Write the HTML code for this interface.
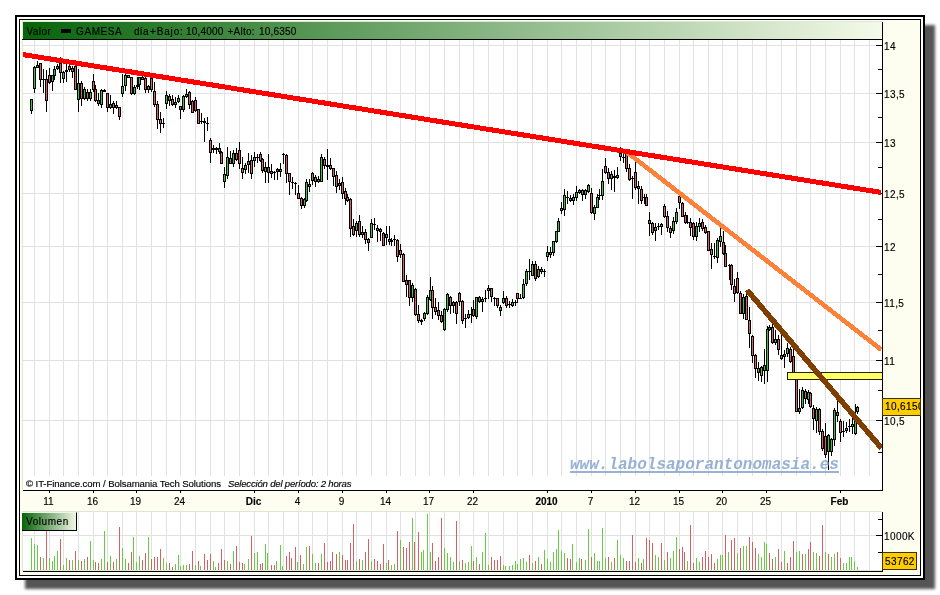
<!DOCTYPE html>
<html><head><meta charset="utf-8"><title>GAMESA</title>
<style>
html,body{margin:0;padding:0;background:#fff;}
body{width:940px;height:595px;position:relative;overflow:hidden;font-family:"Liberation Sans",sans-serif;font-size:10px;color:#000;}
#sh{position:absolute;left:25px;top:24.5px;width:909.5px;height:564px;background:#555;filter:blur(1.7px);}
#fr{position:absolute;left:15px;top:15px;width:906px;height:561px;border:2px solid #000;background:#fff;}
#in{position:absolute;left:19px;top:19px;width:900px;height:555px;border:1px solid #000;background:#fefef0;}
#hd{position:absolute;left:23px;top:22px;width:859px;height:17px;background:linear-gradient(to right,#07640a,#f5faea);}
#ht{position:absolute;left:27px;top:24px;height:16px;line-height:16px;font-size:10px;white-space:pre;}
#ht span{position:absolute;top:0;}
#mk{position:absolute;left:61px;top:29px;width:10px;height:4px;background:#000;}
.pl{position:absolute;background:#fff;}
.k{position:absolute;background:#000;}
.yl{position:absolute;left:884px;height:12px;line-height:12px;font-size:10px;white-space:nowrap;letter-spacing:0.4px;}
.xl{position:absolute;top:496px;width:41px;text-align:center;height:12px;line-height:12px;font-size:10px;}
.xl.b{font-weight:bold;}
#cp{position:absolute;left:26px;top:478px;height:12px;line-height:12px;font-size:9.6px;letter-spacing:-0.09px;white-space:pre;}
#cp i{position:absolute;left:202px;top:0;letter-spacing:-0.21px;}
#wm{position:absolute;left:570px;top:455px;font-family:"Liberation Mono",monospace;font-weight:bold;font-style:italic;font-size:16px;line-height:20px;color:#8eabd0;opacity:.92;white-space:pre;}
#wmu{position:absolute;left:570px;top:471px;width:269px;height:2px;background:#8eabd0;opacity:.92;}
#vl{position:absolute;left:22px;top:512px;width:54px;height:17px;background:linear-gradient(to right,#07640a,#f2f7e6);border-top:1px solid #f1f6ea;border-right:1px solid #000;border-bottom:1px solid #000;line-height:17px;font-size:10px;letter-spacing:0.55px;}
.tag{position:absolute;background:#ffcc00;border:1px solid #3a3000;font-size:10px;box-sizing:border-box;white-space:nowrap;overflow:hidden;}
svg{position:absolute;left:0;top:0;}
#tx{position:absolute;left:0;top:0;width:940px;height:595px;will-change:transform;-webkit-text-stroke:0.15px #000;}
#wm{-webkit-text-stroke:0;}
</style></head><body>
<div id="sh"></div>
<div id="fr"></div>
<div id="in"></div>
<div class="pl" style="left:22px;top:21px;width:860px;height:469px;background:#dbe8d4"></div>
<div class="pl" style="left:23px;top:40px;width:859px;height:450px"></div>
<div class="pl" style="left:22px;top:511px;width:860px;height:60px;background:#dbe8d4"></div>
<div class="pl" style="left:23px;top:512px;width:859px;height:59px"></div>
<div id="hd"></div>
<svg width="940" height="595" viewBox="0 0 940 595" shape-rendering="crispEdges">
<rect x="34" y="40" width="1" height="450" fill="#e1e1e1"/>
<rect x="34" y="512" width="1" height="59" fill="#e1e1e1"/>
<rect x="49" y="40" width="1" height="450" fill="#e1e1e1"/>
<rect x="49" y="512" width="1" height="59" fill="#e1e1e1"/>
<rect x="63" y="40" width="1" height="450" fill="#e1e1e1"/>
<rect x="63" y="512" width="1" height="59" fill="#e1e1e1"/>
<rect x="78" y="40" width="1" height="450" fill="#e1e1e1"/>
<rect x="78" y="512" width="1" height="59" fill="#e1e1e1"/>
<rect x="93" y="40" width="1" height="450" fill="#e1e1e1"/>
<rect x="93" y="512" width="1" height="59" fill="#e1e1e1"/>
<rect x="107" y="40" width="1" height="450" fill="#e1e1e1"/>
<rect x="107" y="512" width="1" height="59" fill="#e1e1e1"/>
<rect x="122" y="40" width="1" height="450" fill="#e1e1e1"/>
<rect x="122" y="512" width="1" height="59" fill="#e1e1e1"/>
<rect x="136" y="40" width="1" height="450" fill="#e1e1e1"/>
<rect x="136" y="512" width="1" height="59" fill="#e1e1e1"/>
<rect x="151" y="40" width="1" height="450" fill="#e1e1e1"/>
<rect x="151" y="512" width="1" height="59" fill="#e1e1e1"/>
<rect x="166" y="40" width="1" height="450" fill="#e1e1e1"/>
<rect x="166" y="512" width="1" height="59" fill="#e1e1e1"/>
<rect x="180" y="40" width="1" height="450" fill="#e1e1e1"/>
<rect x="180" y="512" width="1" height="59" fill="#e1e1e1"/>
<rect x="195" y="40" width="1" height="450" fill="#e1e1e1"/>
<rect x="195" y="512" width="1" height="59" fill="#e1e1e1"/>
<rect x="210" y="40" width="1" height="450" fill="#e1e1e1"/>
<rect x="210" y="512" width="1" height="59" fill="#e1e1e1"/>
<rect x="224" y="40" width="1" height="450" fill="#e1e1e1"/>
<rect x="224" y="512" width="1" height="59" fill="#e1e1e1"/>
<rect x="239" y="40" width="1" height="450" fill="#e1e1e1"/>
<rect x="239" y="512" width="1" height="59" fill="#e1e1e1"/>
<rect x="254" y="40" width="1" height="450" fill="#e1e1e1"/>
<rect x="254" y="512" width="1" height="59" fill="#e1e1e1"/>
<rect x="268" y="40" width="1" height="450" fill="#e1e1e1"/>
<rect x="268" y="512" width="1" height="59" fill="#e1e1e1"/>
<rect x="283" y="40" width="1" height="450" fill="#e1e1e1"/>
<rect x="283" y="512" width="1" height="59" fill="#e1e1e1"/>
<rect x="298" y="40" width="1" height="450" fill="#e1e1e1"/>
<rect x="298" y="512" width="1" height="59" fill="#e1e1e1"/>
<rect x="312" y="40" width="1" height="450" fill="#e1e1e1"/>
<rect x="312" y="512" width="1" height="59" fill="#e1e1e1"/>
<rect x="327" y="40" width="1" height="450" fill="#e1e1e1"/>
<rect x="327" y="512" width="1" height="59" fill="#e1e1e1"/>
<rect x="342" y="40" width="1" height="450" fill="#e1e1e1"/>
<rect x="342" y="512" width="1" height="59" fill="#e1e1e1"/>
<rect x="356" y="40" width="1" height="450" fill="#e1e1e1"/>
<rect x="356" y="512" width="1" height="59" fill="#e1e1e1"/>
<rect x="371" y="40" width="1" height="450" fill="#e1e1e1"/>
<rect x="371" y="512" width="1" height="59" fill="#e1e1e1"/>
<rect x="386" y="40" width="1" height="450" fill="#e1e1e1"/>
<rect x="386" y="512" width="1" height="59" fill="#e1e1e1"/>
<rect x="400" y="40" width="1" height="450" fill="#e1e1e1"/>
<rect x="400" y="512" width="1" height="59" fill="#e1e1e1"/>
<rect x="415" y="40" width="1" height="450" fill="#e1e1e1"/>
<rect x="415" y="512" width="1" height="59" fill="#e1e1e1"/>
<rect x="429" y="40" width="1" height="450" fill="#e1e1e1"/>
<rect x="429" y="512" width="1" height="59" fill="#e1e1e1"/>
<rect x="444" y="40" width="1" height="450" fill="#e1e1e1"/>
<rect x="444" y="512" width="1" height="59" fill="#e1e1e1"/>
<rect x="459" y="40" width="1" height="450" fill="#e1e1e1"/>
<rect x="459" y="512" width="1" height="59" fill="#e1e1e1"/>
<rect x="473" y="40" width="1" height="450" fill="#e1e1e1"/>
<rect x="473" y="512" width="1" height="59" fill="#e1e1e1"/>
<rect x="488" y="40" width="1" height="450" fill="#e1e1e1"/>
<rect x="488" y="512" width="1" height="59" fill="#e1e1e1"/>
<rect x="503" y="40" width="1" height="450" fill="#e1e1e1"/>
<rect x="503" y="512" width="1" height="59" fill="#e1e1e1"/>
<rect x="517" y="40" width="1" height="450" fill="#e1e1e1"/>
<rect x="517" y="512" width="1" height="59" fill="#e1e1e1"/>
<rect x="532" y="40" width="1" height="450" fill="#e1e1e1"/>
<rect x="532" y="512" width="1" height="59" fill="#e1e1e1"/>
<rect x="547" y="40" width="1" height="450" fill="#e1e1e1"/>
<rect x="547" y="512" width="1" height="59" fill="#e1e1e1"/>
<rect x="561" y="40" width="1" height="450" fill="#e1e1e1"/>
<rect x="561" y="512" width="1" height="59" fill="#e1e1e1"/>
<rect x="576" y="40" width="1" height="450" fill="#e1e1e1"/>
<rect x="576" y="512" width="1" height="59" fill="#e1e1e1"/>
<rect x="591" y="40" width="1" height="450" fill="#e1e1e1"/>
<rect x="591" y="512" width="1" height="59" fill="#e1e1e1"/>
<rect x="605" y="40" width="1" height="450" fill="#e1e1e1"/>
<rect x="605" y="512" width="1" height="59" fill="#e1e1e1"/>
<rect x="620" y="40" width="1" height="450" fill="#e1e1e1"/>
<rect x="620" y="512" width="1" height="59" fill="#e1e1e1"/>
<rect x="635" y="40" width="1" height="450" fill="#e1e1e1"/>
<rect x="635" y="512" width="1" height="59" fill="#e1e1e1"/>
<rect x="649" y="40" width="1" height="450" fill="#e1e1e1"/>
<rect x="649" y="512" width="1" height="59" fill="#e1e1e1"/>
<rect x="664" y="40" width="1" height="450" fill="#e1e1e1"/>
<rect x="664" y="512" width="1" height="59" fill="#e1e1e1"/>
<rect x="679" y="40" width="1" height="450" fill="#e1e1e1"/>
<rect x="679" y="512" width="1" height="59" fill="#e1e1e1"/>
<rect x="693" y="40" width="1" height="450" fill="#e1e1e1"/>
<rect x="693" y="512" width="1" height="59" fill="#e1e1e1"/>
<rect x="708" y="40" width="1" height="450" fill="#e1e1e1"/>
<rect x="708" y="512" width="1" height="59" fill="#e1e1e1"/>
<rect x="722" y="40" width="1" height="450" fill="#e1e1e1"/>
<rect x="722" y="512" width="1" height="59" fill="#e1e1e1"/>
<rect x="737" y="40" width="1" height="450" fill="#e1e1e1"/>
<rect x="737" y="512" width="1" height="59" fill="#e1e1e1"/>
<rect x="752" y="40" width="1" height="450" fill="#e1e1e1"/>
<rect x="752" y="512" width="1" height="59" fill="#e1e1e1"/>
<rect x="766" y="40" width="1" height="450" fill="#e1e1e1"/>
<rect x="766" y="512" width="1" height="59" fill="#e1e1e1"/>
<rect x="781" y="40" width="1" height="450" fill="#e1e1e1"/>
<rect x="781" y="512" width="1" height="59" fill="#e1e1e1"/>
<rect x="796" y="40" width="1" height="450" fill="#e1e1e1"/>
<rect x="796" y="512" width="1" height="59" fill="#e1e1e1"/>
<rect x="810" y="40" width="1" height="450" fill="#e1e1e1"/>
<rect x="810" y="512" width="1" height="59" fill="#e1e1e1"/>
<rect x="825" y="40" width="1" height="450" fill="#e1e1e1"/>
<rect x="825" y="512" width="1" height="59" fill="#e1e1e1"/>
<rect x="840" y="40" width="1" height="450" fill="#e1e1e1"/>
<rect x="840" y="512" width="1" height="59" fill="#e1e1e1"/>
<rect x="854" y="40" width="1" height="450" fill="#e1e1e1"/>
<rect x="854" y="512" width="1" height="59" fill="#e1e1e1"/>
<rect x="869" y="40" width="1" height="450" fill="#e1e1e1"/>
<rect x="869" y="512" width="1" height="59" fill="#e1e1e1"/>
<rect x="23" y="45" width="859" height="1" fill="#e1e1e1"/>
<rect x="23" y="93" width="859" height="1" fill="#e1e1e1"/>
<rect x="23" y="142" width="859" height="1" fill="#e1e1e1"/>
<rect x="23" y="193" width="859" height="1" fill="#e1e1e1"/>
<rect x="23" y="246" width="859" height="1" fill="#e1e1e1"/>
<rect x="23" y="302" width="859" height="1" fill="#e1e1e1"/>
<rect x="23" y="360" width="859" height="1" fill="#e1e1e1"/>
<rect x="23" y="420" width="859" height="1" fill="#e1e1e1"/>
<rect x="23" y="535" width="859" height="1" fill="#e1e1e1"/>
<rect x="23" y="476" width="859" height="14" fill="#fff"/>
<rect x="31" y="99" width="1" height="15" fill="#000"/>
<rect x="30" y="99" width="3" height="12" fill="#000"/>
<rect x="31" y="100" width="1" height="10" fill="#34c834"/>
<rect x="34" y="66" width="1" height="27" fill="#000"/>
<rect x="33" y="67" width="3" height="22" fill="#000"/>
<rect x="34" y="68" width="1" height="20" fill="#34c834"/>
<rect x="37" y="61" width="1" height="7" fill="#000"/>
<rect x="36" y="65" width="3" height="3" fill="#000"/>
<rect x="37" y="66" width="1" height="1" fill="#34c834"/>
<rect x="40" y="63" width="1" height="24" fill="#000"/>
<rect x="39" y="63" width="3" height="17" fill="#000"/>
<rect x="40" y="64" width="1" height="15" fill="#d46262"/>
<rect x="43" y="69" width="1" height="24" fill="#000"/>
<rect x="42" y="79" width="3" height="1" fill="#000"/>
<rect x="46" y="70" width="1" height="42" fill="#000"/>
<rect x="45" y="79" width="3" height="22" fill="#000"/>
<rect x="46" y="80" width="1" height="20" fill="#d46262"/>
<rect x="49" y="68" width="1" height="16" fill="#000"/>
<rect x="48" y="75" width="3" height="8" fill="#000"/>
<rect x="49" y="76" width="1" height="6" fill="#d46262"/>
<rect x="52" y="75" width="1" height="16" fill="#000"/>
<rect x="51" y="75" width="3" height="7" fill="#000"/>
<rect x="52" y="76" width="1" height="5" fill="#34c834"/>
<rect x="54" y="66" width="1" height="14" fill="#000"/>
<rect x="53" y="69" width="3" height="7" fill="#000"/>
<rect x="54" y="70" width="1" height="5" fill="#34c834"/>
<rect x="57" y="64" width="1" height="6" fill="#000"/>
<rect x="56" y="66" width="3" height="3" fill="#000"/>
<rect x="57" y="67" width="1" height="1" fill="#34c834"/>
<rect x="60" y="57" width="1" height="26" fill="#000"/>
<rect x="59" y="63" width="3" height="10" fill="#000"/>
<rect x="60" y="64" width="1" height="8" fill="#d46262"/>
<rect x="63" y="71" width="1" height="12" fill="#000"/>
<rect x="62" y="72" width="3" height="7" fill="#000"/>
<rect x="63" y="73" width="1" height="5" fill="#34c834"/>
<rect x="66" y="64" width="1" height="18" fill="#000"/>
<rect x="65" y="70" width="3" height="2" fill="#000"/>
<rect x="69" y="65" width="1" height="7" fill="#000"/>
<rect x="68" y="66" width="3" height="4" fill="#000"/>
<rect x="69" y="67" width="1" height="2" fill="#d46262"/>
<rect x="72" y="66" width="1" height="12" fill="#000"/>
<rect x="71" y="68" width="3" height="4" fill="#000"/>
<rect x="72" y="69" width="1" height="2" fill="#34c834"/>
<rect x="75" y="66" width="1" height="24" fill="#000"/>
<rect x="74" y="66" width="3" height="24" fill="#000"/>
<rect x="75" y="67" width="1" height="22" fill="#d46262"/>
<rect x="78" y="69" width="1" height="43" fill="#000"/>
<rect x="77" y="83" width="3" height="17" fill="#000"/>
<rect x="78" y="84" width="1" height="15" fill="#34c834"/>
<rect x="81" y="81" width="1" height="25" fill="#000"/>
<rect x="80" y="83" width="3" height="16" fill="#000"/>
<rect x="81" y="84" width="1" height="14" fill="#d46262"/>
<rect x="84" y="87" width="1" height="13" fill="#000"/>
<rect x="83" y="89" width="3" height="10" fill="#000"/>
<rect x="84" y="90" width="1" height="8" fill="#34c834"/>
<rect x="87" y="89" width="1" height="12" fill="#000"/>
<rect x="86" y="92" width="3" height="7" fill="#000"/>
<rect x="87" y="93" width="1" height="5" fill="#d46262"/>
<rect x="90" y="89" width="1" height="12" fill="#000"/>
<rect x="89" y="92" width="3" height="7" fill="#000"/>
<rect x="90" y="93" width="1" height="5" fill="#34c834"/>
<rect x="93" y="74" width="1" height="18" fill="#000"/>
<rect x="92" y="81" width="3" height="9" fill="#000"/>
<rect x="93" y="82" width="1" height="7" fill="#d46262"/>
<rect x="95" y="85" width="1" height="17" fill="#000"/>
<rect x="94" y="89" width="3" height="12" fill="#000"/>
<rect x="95" y="90" width="1" height="10" fill="#d46262"/>
<rect x="98" y="93" width="1" height="13" fill="#000"/>
<rect x="97" y="100" width="3" height="4" fill="#000"/>
<rect x="98" y="101" width="1" height="2" fill="#d46262"/>
<rect x="101" y="89" width="1" height="19" fill="#000"/>
<rect x="100" y="90" width="3" height="15" fill="#000"/>
<rect x="101" y="91" width="1" height="13" fill="#34c834"/>
<rect x="104" y="89" width="1" height="3" fill="#000"/>
<rect x="103" y="90" width="3" height="2" fill="#000"/>
<rect x="107" y="93" width="1" height="19" fill="#000"/>
<rect x="106" y="93" width="3" height="15" fill="#000"/>
<rect x="107" y="94" width="1" height="13" fill="#d46262"/>
<rect x="110" y="95" width="1" height="14" fill="#000"/>
<rect x="109" y="104" width="3" height="4" fill="#000"/>
<rect x="110" y="105" width="1" height="2" fill="#34c834"/>
<rect x="113" y="101" width="1" height="13" fill="#000"/>
<rect x="112" y="103" width="3" height="5" fill="#000"/>
<rect x="113" y="104" width="1" height="3" fill="#d46262"/>
<rect x="116" y="101" width="1" height="8" fill="#000"/>
<rect x="115" y="105" width="3" height="3" fill="#000"/>
<rect x="116" y="106" width="1" height="1" fill="#34c834"/>
<rect x="119" y="107" width="1" height="13" fill="#000"/>
<rect x="118" y="107" width="3" height="10" fill="#000"/>
<rect x="119" y="108" width="1" height="8" fill="#d46262"/>
<rect x="122" y="74" width="1" height="23" fill="#000"/>
<rect x="121" y="86" width="3" height="8" fill="#000"/>
<rect x="122" y="87" width="1" height="6" fill="#34c834"/>
<rect x="125" y="74" width="1" height="17" fill="#000"/>
<rect x="124" y="75" width="3" height="11" fill="#000"/>
<rect x="125" y="76" width="1" height="9" fill="#34c834"/>
<rect x="128" y="75" width="1" height="3" fill="#000"/>
<rect x="127" y="75" width="3" height="3" fill="#000"/>
<rect x="128" y="76" width="1" height="1" fill="#34c834"/>
<rect x="131" y="77" width="1" height="18" fill="#000"/>
<rect x="130" y="77" width="3" height="17" fill="#000"/>
<rect x="131" y="78" width="1" height="15" fill="#d46262"/>
<rect x="134" y="85" width="1" height="10" fill="#000"/>
<rect x="133" y="87" width="3" height="7" fill="#000"/>
<rect x="134" y="88" width="1" height="5" fill="#34c834"/>
<rect x="137" y="77" width="1" height="12" fill="#000"/>
<rect x="136" y="85" width="3" height="2" fill="#000"/>
<rect x="139" y="77" width="1" height="13" fill="#000"/>
<rect x="138" y="77" width="3" height="8" fill="#000"/>
<rect x="139" y="78" width="1" height="6" fill="#34c834"/>
<rect x="142" y="76" width="1" height="4" fill="#000"/>
<rect x="141" y="77" width="3" height="3" fill="#000"/>
<rect x="142" y="78" width="1" height="1" fill="#d46262"/>
<rect x="145" y="77" width="1" height="16" fill="#000"/>
<rect x="144" y="78" width="3" height="12" fill="#000"/>
<rect x="145" y="79" width="1" height="10" fill="#d46262"/>
<rect x="148" y="85" width="1" height="8" fill="#000"/>
<rect x="147" y="86" width="3" height="4" fill="#000"/>
<rect x="148" y="87" width="1" height="2" fill="#34c834"/>
<rect x="151" y="78" width="1" height="14" fill="#000"/>
<rect x="150" y="78" width="3" height="12" fill="#000"/>
<rect x="151" y="79" width="1" height="10" fill="#d46262"/>
<rect x="154" y="82" width="1" height="25" fill="#000"/>
<rect x="153" y="91" width="3" height="14" fill="#000"/>
<rect x="154" y="92" width="1" height="12" fill="#d46262"/>
<rect x="157" y="101" width="1" height="28" fill="#000"/>
<rect x="156" y="104" width="3" height="16" fill="#000"/>
<rect x="157" y="105" width="1" height="14" fill="#d46262"/>
<rect x="160" y="112" width="1" height="21" fill="#000"/>
<rect x="159" y="119" width="3" height="5" fill="#000"/>
<rect x="160" y="120" width="1" height="3" fill="#d46262"/>
<rect x="163" y="118" width="1" height="10" fill="#000"/>
<rect x="162" y="123" width="3" height="1" fill="#000"/>
<rect x="166" y="91" width="1" height="18" fill="#000"/>
<rect x="165" y="95" width="3" height="9" fill="#000"/>
<rect x="166" y="96" width="1" height="7" fill="#34c834"/>
<rect x="169" y="94" width="1" height="12" fill="#000"/>
<rect x="168" y="96" width="3" height="5" fill="#000"/>
<rect x="169" y="97" width="1" height="3" fill="#d46262"/>
<rect x="172" y="95" width="1" height="11" fill="#000"/>
<rect x="171" y="99" width="3" height="6" fill="#000"/>
<rect x="172" y="100" width="1" height="4" fill="#d46262"/>
<rect x="175" y="97" width="1" height="11" fill="#000"/>
<rect x="174" y="102" width="3" height="3" fill="#000"/>
<rect x="175" y="103" width="1" height="1" fill="#34c834"/>
<rect x="178" y="95" width="1" height="8" fill="#000"/>
<rect x="177" y="98" width="3" height="4" fill="#000"/>
<rect x="178" y="99" width="1" height="2" fill="#34c834"/>
<rect x="180" y="106" width="1" height="13" fill="#000"/>
<rect x="179" y="106" width="3" height="4" fill="#000"/>
<rect x="180" y="107" width="1" height="2" fill="#d46262"/>
<rect x="183" y="95" width="1" height="17" fill="#000"/>
<rect x="182" y="96" width="3" height="14" fill="#000"/>
<rect x="183" y="97" width="1" height="12" fill="#34c834"/>
<rect x="186" y="89" width="1" height="9" fill="#000"/>
<rect x="185" y="94" width="3" height="3" fill="#000"/>
<rect x="186" y="95" width="1" height="1" fill="#34c834"/>
<rect x="189" y="91" width="1" height="18" fill="#000"/>
<rect x="188" y="92" width="3" height="13" fill="#000"/>
<rect x="189" y="93" width="1" height="11" fill="#d46262"/>
<rect x="192" y="100" width="1" height="13" fill="#000"/>
<rect x="191" y="101" width="3" height="12" fill="#000"/>
<rect x="192" y="102" width="1" height="10" fill="#d46262"/>
<rect x="195" y="97" width="1" height="15" fill="#000"/>
<rect x="194" y="100" width="3" height="11" fill="#000"/>
<rect x="195" y="101" width="1" height="9" fill="#d46262"/>
<rect x="198" y="109" width="1" height="15" fill="#000"/>
<rect x="197" y="109" width="3" height="15" fill="#000"/>
<rect x="198" y="110" width="1" height="13" fill="#d46262"/>
<rect x="201" y="113" width="1" height="11" fill="#000"/>
<rect x="200" y="121" width="3" height="1" fill="#000"/>
<rect x="204" y="118" width="1" height="24" fill="#000"/>
<rect x="203" y="121" width="3" height="2" fill="#000"/>
<rect x="207" y="117" width="1" height="14" fill="#000"/>
<rect x="206" y="123" width="3" height="1" fill="#000"/>
<rect x="210" y="138" width="1" height="25" fill="#000"/>
<rect x="209" y="140" width="3" height="13" fill="#000"/>
<rect x="210" y="141" width="1" height="11" fill="#d46262"/>
<rect x="213" y="145" width="1" height="8" fill="#000"/>
<rect x="212" y="148" width="3" height="2" fill="#000"/>
<rect x="216" y="147" width="1" height="7" fill="#000"/>
<rect x="215" y="148" width="3" height="2" fill="#000"/>
<rect x="219" y="143" width="1" height="11" fill="#000"/>
<rect x="218" y="148" width="3" height="4" fill="#000"/>
<rect x="219" y="149" width="1" height="2" fill="#d46262"/>
<rect x="221" y="151" width="1" height="13" fill="#000"/>
<rect x="220" y="152" width="3" height="12" fill="#000"/>
<rect x="221" y="153" width="1" height="10" fill="#d46262"/>
<rect x="224" y="167" width="1" height="21" fill="#000"/>
<rect x="223" y="174" width="3" height="8" fill="#000"/>
<rect x="224" y="175" width="1" height="6" fill="#34c834"/>
<rect x="227" y="147" width="1" height="32" fill="#000"/>
<rect x="226" y="157" width="3" height="19" fill="#000"/>
<rect x="227" y="158" width="1" height="17" fill="#34c834"/>
<rect x="230" y="151" width="1" height="13" fill="#000"/>
<rect x="229" y="158" width="3" height="6" fill="#000"/>
<rect x="230" y="159" width="1" height="4" fill="#d46262"/>
<rect x="233" y="150" width="1" height="17" fill="#000"/>
<rect x="232" y="153" width="3" height="11" fill="#000"/>
<rect x="233" y="154" width="1" height="9" fill="#34c834"/>
<rect x="236" y="148" width="1" height="13" fill="#000"/>
<rect x="235" y="153" width="3" height="7" fill="#000"/>
<rect x="236" y="154" width="1" height="5" fill="#d46262"/>
<rect x="239" y="142" width="1" height="27" fill="#000"/>
<rect x="238" y="150" width="3" height="14" fill="#000"/>
<rect x="239" y="151" width="1" height="12" fill="#d46262"/>
<rect x="242" y="157" width="1" height="22" fill="#000"/>
<rect x="241" y="168" width="3" height="5" fill="#000"/>
<rect x="242" y="169" width="1" height="3" fill="#d46262"/>
<rect x="245" y="163" width="1" height="11" fill="#000"/>
<rect x="244" y="165" width="3" height="5" fill="#000"/>
<rect x="245" y="166" width="1" height="3" fill="#34c834"/>
<rect x="248" y="153" width="1" height="20" fill="#000"/>
<rect x="247" y="161" width="3" height="4" fill="#000"/>
<rect x="248" y="162" width="1" height="2" fill="#34c834"/>
<rect x="251" y="155" width="1" height="24" fill="#000"/>
<rect x="250" y="160" width="3" height="14" fill="#000"/>
<rect x="251" y="161" width="1" height="12" fill="#d46262"/>
<rect x="254" y="152" width="1" height="15" fill="#000"/>
<rect x="253" y="157" width="3" height="4" fill="#000"/>
<rect x="254" y="158" width="1" height="2" fill="#34c834"/>
<rect x="257" y="154" width="1" height="9" fill="#000"/>
<rect x="256" y="157" width="3" height="1" fill="#000"/>
<rect x="260" y="152" width="1" height="10" fill="#000"/>
<rect x="259" y="154" width="3" height="7" fill="#000"/>
<rect x="260" y="155" width="1" height="5" fill="#d46262"/>
<rect x="262" y="158" width="1" height="15" fill="#000"/>
<rect x="261" y="159" width="3" height="12" fill="#000"/>
<rect x="262" y="160" width="1" height="10" fill="#d46262"/>
<rect x="265" y="162" width="1" height="21" fill="#000"/>
<rect x="264" y="167" width="3" height="5" fill="#000"/>
<rect x="265" y="168" width="1" height="3" fill="#34c834"/>
<rect x="268" y="154" width="1" height="29" fill="#000"/>
<rect x="267" y="167" width="3" height="6" fill="#000"/>
<rect x="268" y="168" width="1" height="4" fill="#d46262"/>
<rect x="271" y="164" width="1" height="14" fill="#000"/>
<rect x="270" y="171" width="3" height="3" fill="#000"/>
<rect x="271" y="172" width="1" height="1" fill="#d46262"/>
<rect x="274" y="171" width="1" height="9" fill="#000"/>
<rect x="273" y="172" width="3" height="1" fill="#000"/>
<rect x="277" y="168" width="1" height="12" fill="#000"/>
<rect x="276" y="169" width="3" height="3" fill="#000"/>
<rect x="277" y="170" width="1" height="1" fill="#d46262"/>
<rect x="280" y="163" width="1" height="14" fill="#000"/>
<rect x="279" y="169" width="3" height="3" fill="#000"/>
<rect x="280" y="170" width="1" height="1" fill="#34c834"/>
<rect x="283" y="153" width="1" height="11" fill="#000"/>
<rect x="282" y="154" width="3" height="1" fill="#000"/>
<rect x="286" y="154" width="1" height="29" fill="#000"/>
<rect x="285" y="155" width="3" height="19" fill="#000"/>
<rect x="286" y="156" width="1" height="17" fill="#d46262"/>
<rect x="289" y="173" width="1" height="22" fill="#000"/>
<rect x="288" y="173" width="3" height="9" fill="#000"/>
<rect x="289" y="174" width="1" height="7" fill="#d46262"/>
<rect x="292" y="177" width="1" height="12" fill="#000"/>
<rect x="291" y="182" width="3" height="1" fill="#000"/>
<rect x="295" y="182" width="1" height="13" fill="#000"/>
<rect x="294" y="183" width="3" height="1" fill="#000"/>
<rect x="298" y="185" width="1" height="14" fill="#000"/>
<rect x="297" y="193" width="3" height="6" fill="#000"/>
<rect x="298" y="194" width="1" height="4" fill="#d46262"/>
<rect x="301" y="197" width="1" height="12" fill="#000"/>
<rect x="300" y="198" width="3" height="8" fill="#000"/>
<rect x="301" y="199" width="1" height="6" fill="#d46262"/>
<rect x="304" y="198" width="1" height="10" fill="#000"/>
<rect x="303" y="199" width="3" height="7" fill="#000"/>
<rect x="304" y="200" width="1" height="5" fill="#34c834"/>
<rect x="306" y="179" width="1" height="23" fill="#000"/>
<rect x="305" y="182" width="3" height="19" fill="#000"/>
<rect x="306" y="183" width="1" height="17" fill="#34c834"/>
<rect x="309" y="179" width="1" height="13" fill="#000"/>
<rect x="308" y="184" width="3" height="3" fill="#000"/>
<rect x="309" y="185" width="1" height="1" fill="#d46262"/>
<rect x="312" y="172" width="1" height="13" fill="#000"/>
<rect x="311" y="173" width="3" height="8" fill="#000"/>
<rect x="312" y="174" width="1" height="6" fill="#d46262"/>
<rect x="315" y="175" width="1" height="12" fill="#000"/>
<rect x="314" y="177" width="3" height="5" fill="#000"/>
<rect x="315" y="178" width="1" height="3" fill="#34c834"/>
<rect x="318" y="176" width="1" height="7" fill="#000"/>
<rect x="317" y="179" width="3" height="3" fill="#000"/>
<rect x="318" y="180" width="1" height="1" fill="#d46262"/>
<rect x="321" y="154" width="1" height="28" fill="#000"/>
<rect x="320" y="157" width="3" height="25" fill="#000"/>
<rect x="321" y="158" width="1" height="23" fill="#34c834"/>
<rect x="324" y="157" width="1" height="12" fill="#000"/>
<rect x="323" y="159" width="3" height="7" fill="#000"/>
<rect x="324" y="160" width="1" height="5" fill="#d46262"/>
<rect x="327" y="149" width="1" height="31" fill="#000"/>
<rect x="326" y="165" width="3" height="2" fill="#000"/>
<rect x="330" y="158" width="1" height="12" fill="#000"/>
<rect x="329" y="165" width="3" height="4" fill="#000"/>
<rect x="330" y="166" width="1" height="2" fill="#d46262"/>
<rect x="333" y="168" width="1" height="18" fill="#000"/>
<rect x="332" y="168" width="3" height="9" fill="#000"/>
<rect x="333" y="169" width="1" height="7" fill="#d46262"/>
<rect x="336" y="171" width="1" height="22" fill="#000"/>
<rect x="335" y="175" width="3" height="12" fill="#000"/>
<rect x="336" y="176" width="1" height="10" fill="#d46262"/>
<rect x="339" y="179" width="1" height="11" fill="#000"/>
<rect x="338" y="183" width="3" height="3" fill="#000"/>
<rect x="339" y="184" width="1" height="1" fill="#34c834"/>
<rect x="342" y="177" width="1" height="22" fill="#000"/>
<rect x="341" y="182" width="3" height="12" fill="#000"/>
<rect x="342" y="183" width="1" height="10" fill="#d46262"/>
<rect x="345" y="188" width="1" height="17" fill="#000"/>
<rect x="344" y="191" width="3" height="8" fill="#000"/>
<rect x="345" y="192" width="1" height="6" fill="#d46262"/>
<rect x="347" y="194" width="1" height="8" fill="#000"/>
<rect x="346" y="197" width="3" height="4" fill="#000"/>
<rect x="347" y="198" width="1" height="2" fill="#d46262"/>
<rect x="350" y="198" width="1" height="39" fill="#000"/>
<rect x="349" y="199" width="3" height="30" fill="#000"/>
<rect x="350" y="200" width="1" height="28" fill="#d46262"/>
<rect x="353" y="219" width="1" height="17" fill="#000"/>
<rect x="352" y="226" width="3" height="9" fill="#000"/>
<rect x="353" y="227" width="1" height="7" fill="#d46262"/>
<rect x="356" y="221" width="1" height="16" fill="#000"/>
<rect x="355" y="223" width="3" height="8" fill="#000"/>
<rect x="356" y="224" width="1" height="6" fill="#34c834"/>
<rect x="359" y="215" width="1" height="22" fill="#000"/>
<rect x="358" y="221" width="3" height="14" fill="#000"/>
<rect x="359" y="222" width="1" height="12" fill="#d46262"/>
<rect x="362" y="226" width="1" height="12" fill="#000"/>
<rect x="361" y="232" width="3" height="3" fill="#000"/>
<rect x="362" y="233" width="1" height="1" fill="#34c834"/>
<rect x="365" y="229" width="1" height="15" fill="#000"/>
<rect x="364" y="232" width="3" height="8" fill="#000"/>
<rect x="365" y="233" width="1" height="6" fill="#d46262"/>
<rect x="368" y="238" width="1" height="13" fill="#000"/>
<rect x="367" y="239" width="3" height="4" fill="#000"/>
<rect x="368" y="240" width="1" height="2" fill="#d46262"/>
<rect x="371" y="219" width="1" height="19" fill="#000"/>
<rect x="370" y="223" width="3" height="15" fill="#000"/>
<rect x="371" y="224" width="1" height="13" fill="#34c834"/>
<rect x="374" y="218" width="1" height="12" fill="#000"/>
<rect x="373" y="224" width="3" height="1" fill="#000"/>
<rect x="377" y="225" width="1" height="17" fill="#000"/>
<rect x="376" y="228" width="3" height="3" fill="#000"/>
<rect x="377" y="229" width="1" height="1" fill="#d46262"/>
<rect x="380" y="228" width="1" height="13" fill="#000"/>
<rect x="379" y="229" width="3" height="3" fill="#000"/>
<rect x="380" y="230" width="1" height="1" fill="#d46262"/>
<rect x="383" y="232" width="1" height="14" fill="#000"/>
<rect x="382" y="233" width="3" height="13" fill="#000"/>
<rect x="383" y="234" width="1" height="11" fill="#d46262"/>
<rect x="386" y="226" width="1" height="19" fill="#000"/>
<rect x="385" y="234" width="3" height="4" fill="#000"/>
<rect x="386" y="235" width="1" height="2" fill="#d46262"/>
<rect x="389" y="226" width="1" height="19" fill="#000"/>
<rect x="388" y="239" width="3" height="3" fill="#000"/>
<rect x="389" y="240" width="1" height="1" fill="#d46262"/>
<rect x="391" y="238" width="1" height="8" fill="#000"/>
<rect x="390" y="240" width="3" height="2" fill="#000"/>
<rect x="394" y="235" width="1" height="11" fill="#000"/>
<rect x="393" y="239" width="3" height="1" fill="#000"/>
<rect x="397" y="239" width="1" height="23" fill="#000"/>
<rect x="396" y="240" width="3" height="17" fill="#000"/>
<rect x="397" y="241" width="1" height="15" fill="#d46262"/>
<rect x="400" y="244" width="1" height="14" fill="#000"/>
<rect x="399" y="250" width="3" height="5" fill="#000"/>
<rect x="400" y="251" width="1" height="3" fill="#d46262"/>
<rect x="403" y="253" width="1" height="29" fill="#000"/>
<rect x="402" y="254" width="3" height="28" fill="#000"/>
<rect x="403" y="255" width="1" height="26" fill="#d46262"/>
<rect x="406" y="275" width="1" height="22" fill="#000"/>
<rect x="405" y="280" width="3" height="5" fill="#000"/>
<rect x="406" y="281" width="1" height="3" fill="#d46262"/>
<rect x="409" y="280" width="1" height="26" fill="#000"/>
<rect x="408" y="280" width="3" height="18" fill="#000"/>
<rect x="409" y="281" width="1" height="16" fill="#d46262"/>
<rect x="412" y="283" width="1" height="19" fill="#000"/>
<rect x="411" y="285" width="3" height="13" fill="#000"/>
<rect x="412" y="286" width="1" height="11" fill="#34c834"/>
<rect x="415" y="288" width="1" height="28" fill="#000"/>
<rect x="414" y="289" width="3" height="26" fill="#000"/>
<rect x="415" y="290" width="1" height="24" fill="#d46262"/>
<rect x="418" y="305" width="1" height="18" fill="#000"/>
<rect x="417" y="314" width="3" height="7" fill="#000"/>
<rect x="418" y="315" width="1" height="5" fill="#d46262"/>
<rect x="421" y="319" width="1" height="6" fill="#000"/>
<rect x="420" y="320" width="3" height="2" fill="#000"/>
<rect x="424" y="312" width="1" height="9" fill="#000"/>
<rect x="423" y="313" width="3" height="6" fill="#000"/>
<rect x="424" y="314" width="1" height="4" fill="#34c834"/>
<rect x="427" y="295" width="1" height="20" fill="#000"/>
<rect x="426" y="297" width="3" height="17" fill="#000"/>
<rect x="427" y="298" width="1" height="15" fill="#34c834"/>
<rect x="430" y="277" width="1" height="24" fill="#000"/>
<rect x="429" y="290" width="3" height="10" fill="#000"/>
<rect x="430" y="291" width="1" height="8" fill="#34c834"/>
<rect x="432" y="286" width="1" height="33" fill="#000"/>
<rect x="431" y="290" width="3" height="18" fill="#000"/>
<rect x="432" y="291" width="1" height="16" fill="#d46262"/>
<rect x="435" y="298" width="1" height="17" fill="#000"/>
<rect x="434" y="307" width="3" height="5" fill="#000"/>
<rect x="435" y="308" width="1" height="3" fill="#d46262"/>
<rect x="438" y="302" width="1" height="18" fill="#000"/>
<rect x="437" y="310" width="3" height="6" fill="#000"/>
<rect x="438" y="311" width="1" height="4" fill="#d46262"/>
<rect x="441" y="311" width="1" height="12" fill="#000"/>
<rect x="440" y="315" width="3" height="7" fill="#000"/>
<rect x="441" y="316" width="1" height="5" fill="#d46262"/>
<rect x="444" y="308" width="1" height="23" fill="#000"/>
<rect x="443" y="309" width="3" height="21" fill="#000"/>
<rect x="444" y="310" width="1" height="19" fill="#34c834"/>
<rect x="447" y="293" width="1" height="19" fill="#000"/>
<rect x="446" y="294" width="3" height="16" fill="#000"/>
<rect x="447" y="295" width="1" height="14" fill="#34c834"/>
<rect x="450" y="296" width="1" height="18" fill="#000"/>
<rect x="449" y="297" width="3" height="9" fill="#000"/>
<rect x="450" y="298" width="1" height="7" fill="#d46262"/>
<rect x="453" y="301" width="1" height="12" fill="#000"/>
<rect x="452" y="302" width="3" height="4" fill="#000"/>
<rect x="453" y="303" width="1" height="2" fill="#34c834"/>
<rect x="456" y="301" width="1" height="23" fill="#000"/>
<rect x="455" y="302" width="3" height="12" fill="#000"/>
<rect x="456" y="303" width="1" height="10" fill="#d46262"/>
<rect x="459" y="292" width="1" height="14" fill="#000"/>
<rect x="458" y="293" width="3" height="9" fill="#000"/>
<rect x="459" y="294" width="1" height="7" fill="#d46262"/>
<rect x="462" y="300" width="1" height="24" fill="#000"/>
<rect x="461" y="301" width="3" height="20" fill="#000"/>
<rect x="462" y="302" width="1" height="18" fill="#d46262"/>
<rect x="465" y="314" width="1" height="14" fill="#000"/>
<rect x="464" y="318" width="3" height="1" fill="#000"/>
<rect x="468" y="310" width="1" height="9" fill="#000"/>
<rect x="467" y="314" width="3" height="4" fill="#000"/>
<rect x="468" y="315" width="1" height="2" fill="#34c834"/>
<rect x="471" y="307" width="1" height="16" fill="#000"/>
<rect x="470" y="314" width="3" height="1" fill="#000"/>
<rect x="473" y="300" width="1" height="17" fill="#000"/>
<rect x="472" y="309" width="3" height="7" fill="#000"/>
<rect x="473" y="310" width="1" height="5" fill="#d46262"/>
<rect x="476" y="297" width="1" height="22" fill="#000"/>
<rect x="475" y="297" width="3" height="20" fill="#000"/>
<rect x="476" y="298" width="1" height="18" fill="#34c834"/>
<rect x="479" y="296" width="1" height="7" fill="#000"/>
<rect x="478" y="297" width="3" height="5" fill="#000"/>
<rect x="479" y="298" width="1" height="3" fill="#d46262"/>
<rect x="482" y="297" width="1" height="15" fill="#000"/>
<rect x="481" y="299" width="3" height="3" fill="#000"/>
<rect x="482" y="300" width="1" height="1" fill="#34c834"/>
<rect x="485" y="290" width="1" height="12" fill="#000"/>
<rect x="484" y="298" width="3" height="1" fill="#000"/>
<rect x="488" y="285" width="1" height="14" fill="#000"/>
<rect x="487" y="288" width="3" height="3" fill="#000"/>
<rect x="488" y="289" width="1" height="1" fill="#34c834"/>
<rect x="491" y="288" width="1" height="14" fill="#000"/>
<rect x="490" y="288" width="3" height="9" fill="#000"/>
<rect x="491" y="289" width="1" height="7" fill="#d46262"/>
<rect x="494" y="297" width="1" height="9" fill="#000"/>
<rect x="493" y="298" width="3" height="1" fill="#000"/>
<rect x="497" y="298" width="1" height="10" fill="#000"/>
<rect x="496" y="298" width="3" height="8" fill="#000"/>
<rect x="497" y="299" width="1" height="6" fill="#d46262"/>
<rect x="500" y="305" width="1" height="11" fill="#000"/>
<rect x="499" y="307" width="3" height="4" fill="#000"/>
<rect x="500" y="308" width="1" height="2" fill="#34c834"/>
<rect x="503" y="291" width="1" height="13" fill="#000"/>
<rect x="502" y="298" width="3" height="5" fill="#000"/>
<rect x="503" y="299" width="1" height="3" fill="#34c834"/>
<rect x="506" y="296" width="1" height="12" fill="#000"/>
<rect x="505" y="298" width="3" height="8" fill="#000"/>
<rect x="506" y="299" width="1" height="6" fill="#d46262"/>
<rect x="509" y="301" width="1" height="7" fill="#000"/>
<rect x="508" y="304" width="3" height="1" fill="#000"/>
<rect x="512" y="299" width="1" height="8" fill="#000"/>
<rect x="511" y="302" width="3" height="4" fill="#000"/>
<rect x="512" y="303" width="1" height="2" fill="#34c834"/>
<rect x="515" y="300" width="1" height="6" fill="#000"/>
<rect x="514" y="302" width="3" height="1" fill="#000"/>
<rect x="517" y="293" width="1" height="10" fill="#000"/>
<rect x="516" y="293" width="3" height="6" fill="#000"/>
<rect x="517" y="294" width="1" height="4" fill="#d46262"/>
<rect x="520" y="294" width="1" height="5" fill="#000"/>
<rect x="519" y="298" width="3" height="1" fill="#000"/>
<rect x="523" y="279" width="1" height="20" fill="#000"/>
<rect x="522" y="284" width="3" height="14" fill="#000"/>
<rect x="523" y="285" width="1" height="12" fill="#34c834"/>
<rect x="526" y="269" width="1" height="17" fill="#000"/>
<rect x="525" y="271" width="3" height="13" fill="#000"/>
<rect x="526" y="272" width="1" height="11" fill="#34c834"/>
<rect x="529" y="259" width="1" height="21" fill="#000"/>
<rect x="528" y="271" width="3" height="1" fill="#000"/>
<rect x="532" y="261" width="1" height="15" fill="#000"/>
<rect x="531" y="264" width="3" height="12" fill="#000"/>
<rect x="532" y="265" width="1" height="10" fill="#34c834"/>
<rect x="535" y="261" width="1" height="20" fill="#000"/>
<rect x="534" y="264" width="3" height="15" fill="#000"/>
<rect x="535" y="265" width="1" height="13" fill="#d46262"/>
<rect x="538" y="266" width="1" height="12" fill="#000"/>
<rect x="537" y="269" width="3" height="8" fill="#000"/>
<rect x="538" y="270" width="1" height="6" fill="#34c834"/>
<rect x="541" y="267" width="1" height="7" fill="#000"/>
<rect x="540" y="269" width="3" height="3" fill="#000"/>
<rect x="541" y="270" width="1" height="1" fill="#d46262"/>
<rect x="544" y="269" width="1" height="8" fill="#000"/>
<rect x="543" y="271" width="3" height="1" fill="#000"/>
<rect x="547" y="246" width="1" height="15" fill="#000"/>
<rect x="546" y="252" width="3" height="5" fill="#000"/>
<rect x="547" y="253" width="1" height="3" fill="#34c834"/>
<rect x="550" y="247" width="1" height="11" fill="#000"/>
<rect x="549" y="252" width="3" height="3" fill="#000"/>
<rect x="550" y="253" width="1" height="1" fill="#d46262"/>
<rect x="553" y="241" width="1" height="15" fill="#000"/>
<rect x="552" y="241" width="3" height="12" fill="#000"/>
<rect x="553" y="242" width="1" height="10" fill="#34c834"/>
<rect x="556" y="231" width="1" height="12" fill="#000"/>
<rect x="555" y="231" width="3" height="11" fill="#000"/>
<rect x="556" y="232" width="1" height="9" fill="#34c834"/>
<rect x="558" y="218" width="1" height="14" fill="#000"/>
<rect x="557" y="221" width="3" height="11" fill="#000"/>
<rect x="558" y="222" width="1" height="9" fill="#34c834"/>
<rect x="561" y="202" width="1" height="12" fill="#000"/>
<rect x="560" y="208" width="3" height="3" fill="#000"/>
<rect x="561" y="209" width="1" height="1" fill="#d46262"/>
<rect x="564" y="189" width="1" height="27" fill="#000"/>
<rect x="563" y="195" width="3" height="15" fill="#000"/>
<rect x="564" y="196" width="1" height="13" fill="#34c834"/>
<rect x="567" y="191" width="1" height="13" fill="#000"/>
<rect x="566" y="197" width="3" height="1" fill="#000"/>
<rect x="570" y="195" width="1" height="7" fill="#000"/>
<rect x="569" y="198" width="3" height="3" fill="#000"/>
<rect x="570" y="199" width="1" height="1" fill="#d46262"/>
<rect x="573" y="194" width="1" height="11" fill="#000"/>
<rect x="572" y="197" width="3" height="4" fill="#000"/>
<rect x="573" y="198" width="1" height="2" fill="#34c834"/>
<rect x="576" y="186" width="1" height="15" fill="#000"/>
<rect x="575" y="192" width="3" height="6" fill="#000"/>
<rect x="576" y="193" width="1" height="4" fill="#34c834"/>
<rect x="579" y="189" width="1" height="5" fill="#000"/>
<rect x="578" y="190" width="3" height="3" fill="#000"/>
<rect x="579" y="191" width="1" height="1" fill="#34c834"/>
<rect x="582" y="189" width="1" height="12" fill="#000"/>
<rect x="581" y="190" width="3" height="5" fill="#000"/>
<rect x="582" y="191" width="1" height="3" fill="#d46262"/>
<rect x="585" y="189" width="1" height="10" fill="#000"/>
<rect x="584" y="190" width="3" height="5" fill="#000"/>
<rect x="585" y="191" width="1" height="3" fill="#34c834"/>
<rect x="588" y="184" width="1" height="9" fill="#000"/>
<rect x="587" y="185" width="3" height="7" fill="#000"/>
<rect x="588" y="186" width="1" height="5" fill="#34c834"/>
<rect x="591" y="188" width="1" height="26" fill="#000"/>
<rect x="590" y="193" width="3" height="20" fill="#000"/>
<rect x="591" y="194" width="1" height="18" fill="#d46262"/>
<rect x="594" y="205" width="1" height="15" fill="#000"/>
<rect x="593" y="207" width="3" height="7" fill="#000"/>
<rect x="594" y="208" width="1" height="5" fill="#34c834"/>
<rect x="597" y="194" width="1" height="14" fill="#000"/>
<rect x="596" y="197" width="3" height="11" fill="#000"/>
<rect x="597" y="198" width="1" height="9" fill="#34c834"/>
<rect x="599" y="189" width="1" height="11" fill="#000"/>
<rect x="598" y="195" width="3" height="1" fill="#000"/>
<rect x="602" y="169" width="1" height="31" fill="#000"/>
<rect x="601" y="181" width="3" height="15" fill="#000"/>
<rect x="602" y="182" width="1" height="13" fill="#34c834"/>
<rect x="605" y="158" width="1" height="16" fill="#000"/>
<rect x="604" y="166" width="3" height="7" fill="#000"/>
<rect x="605" y="167" width="1" height="5" fill="#d46262"/>
<rect x="608" y="168" width="1" height="16" fill="#000"/>
<rect x="607" y="172" width="3" height="7" fill="#000"/>
<rect x="608" y="173" width="1" height="5" fill="#d46262"/>
<rect x="611" y="171" width="1" height="19" fill="#000"/>
<rect x="610" y="174" width="3" height="5" fill="#000"/>
<rect x="611" y="175" width="1" height="3" fill="#34c834"/>
<rect x="614" y="170" width="1" height="22" fill="#000"/>
<rect x="613" y="176" width="3" height="2" fill="#000"/>
<rect x="617" y="167" width="1" height="12" fill="#000"/>
<rect x="616" y="175" width="3" height="3" fill="#000"/>
<rect x="617" y="176" width="1" height="1" fill="#34c834"/>
<rect x="620" y="147" width="1" height="14" fill="#000"/>
<rect x="619" y="153" width="3" height="4" fill="#000"/>
<rect x="620" y="154" width="1" height="2" fill="#34c834"/>
<rect x="623" y="154" width="1" height="9" fill="#000"/>
<rect x="622" y="157" width="3" height="1" fill="#000"/>
<rect x="626" y="149" width="1" height="23" fill="#000"/>
<rect x="625" y="154" width="3" height="15" fill="#000"/>
<rect x="626" y="155" width="1" height="13" fill="#d46262"/>
<rect x="629" y="164" width="1" height="17" fill="#000"/>
<rect x="628" y="168" width="3" height="12" fill="#000"/>
<rect x="629" y="169" width="1" height="10" fill="#d46262"/>
<rect x="632" y="176" width="1" height="23" fill="#000"/>
<rect x="631" y="178" width="3" height="1" fill="#000"/>
<rect x="635" y="161" width="1" height="29" fill="#000"/>
<rect x="634" y="172" width="3" height="16" fill="#000"/>
<rect x="635" y="173" width="1" height="14" fill="#d46262"/>
<rect x="638" y="181" width="1" height="23" fill="#000"/>
<rect x="637" y="186" width="3" height="3" fill="#000"/>
<rect x="638" y="187" width="1" height="1" fill="#34c834"/>
<rect x="641" y="186" width="1" height="18" fill="#000"/>
<rect x="640" y="189" width="3" height="12" fill="#000"/>
<rect x="641" y="190" width="1" height="10" fill="#d46262"/>
<rect x="644" y="194" width="1" height="10" fill="#000"/>
<rect x="643" y="197" width="3" height="1" fill="#000"/>
<rect x="646" y="194" width="1" height="12" fill="#000"/>
<rect x="645" y="197" width="3" height="9" fill="#000"/>
<rect x="646" y="198" width="1" height="7" fill="#d46262"/>
<rect x="649" y="212" width="1" height="24" fill="#000"/>
<rect x="648" y="220" width="3" height="4" fill="#000"/>
<rect x="649" y="221" width="1" height="2" fill="#d46262"/>
<rect x="652" y="222" width="1" height="13" fill="#000"/>
<rect x="651" y="223" width="3" height="10" fill="#000"/>
<rect x="652" y="224" width="1" height="8" fill="#d46262"/>
<rect x="655" y="223" width="1" height="18" fill="#000"/>
<rect x="654" y="227" width="3" height="4" fill="#000"/>
<rect x="655" y="228" width="1" height="2" fill="#34c834"/>
<rect x="658" y="223" width="1" height="7" fill="#000"/>
<rect x="657" y="226" width="3" height="1" fill="#000"/>
<rect x="661" y="223" width="1" height="12" fill="#000"/>
<rect x="660" y="224" width="3" height="3" fill="#000"/>
<rect x="661" y="225" width="1" height="1" fill="#34c834"/>
<rect x="664" y="204" width="1" height="14" fill="#000"/>
<rect x="663" y="206" width="3" height="11" fill="#000"/>
<rect x="664" y="207" width="1" height="9" fill="#d46262"/>
<rect x="667" y="211" width="1" height="21" fill="#000"/>
<rect x="666" y="216" width="3" height="12" fill="#000"/>
<rect x="667" y="217" width="1" height="10" fill="#d46262"/>
<rect x="670" y="226" width="1" height="12" fill="#000"/>
<rect x="669" y="228" width="3" height="5" fill="#000"/>
<rect x="670" y="229" width="1" height="3" fill="#d46262"/>
<rect x="673" y="217" width="1" height="17" fill="#000"/>
<rect x="672" y="221" width="3" height="10" fill="#000"/>
<rect x="673" y="222" width="1" height="8" fill="#34c834"/>
<rect x="676" y="208" width="1" height="16" fill="#000"/>
<rect x="675" y="212" width="3" height="10" fill="#000"/>
<rect x="676" y="213" width="1" height="8" fill="#34c834"/>
<rect x="679" y="195" width="1" height="14" fill="#000"/>
<rect x="678" y="196" width="3" height="7" fill="#000"/>
<rect x="679" y="197" width="1" height="5" fill="#d46262"/>
<rect x="682" y="202" width="1" height="15" fill="#000"/>
<rect x="681" y="203" width="3" height="14" fill="#000"/>
<rect x="682" y="204" width="1" height="12" fill="#d46262"/>
<rect x="685" y="212" width="1" height="12" fill="#000"/>
<rect x="684" y="215" width="3" height="8" fill="#000"/>
<rect x="685" y="216" width="1" height="6" fill="#d46262"/>
<rect x="687" y="215" width="1" height="9" fill="#000"/>
<rect x="686" y="222" width="3" height="1" fill="#000"/>
<rect x="690" y="218" width="1" height="18" fill="#000"/>
<rect x="689" y="222" width="3" height="6" fill="#000"/>
<rect x="690" y="223" width="1" height="4" fill="#d46262"/>
<rect x="693" y="222" width="1" height="18" fill="#000"/>
<rect x="692" y="223" width="3" height="14" fill="#000"/>
<rect x="693" y="224" width="1" height="12" fill="#d46262"/>
<rect x="696" y="222" width="1" height="19" fill="#000"/>
<rect x="695" y="226" width="3" height="11" fill="#000"/>
<rect x="696" y="227" width="1" height="9" fill="#34c834"/>
<rect x="699" y="218" width="1" height="14" fill="#000"/>
<rect x="698" y="223" width="3" height="4" fill="#000"/>
<rect x="699" y="224" width="1" height="2" fill="#34c834"/>
<rect x="702" y="219" width="1" height="12" fill="#000"/>
<rect x="701" y="222" width="3" height="7" fill="#000"/>
<rect x="702" y="223" width="1" height="5" fill="#d46262"/>
<rect x="705" y="225" width="1" height="9" fill="#000"/>
<rect x="704" y="227" width="3" height="6" fill="#000"/>
<rect x="705" y="228" width="1" height="4" fill="#d46262"/>
<rect x="708" y="231" width="1" height="20" fill="#000"/>
<rect x="707" y="231" width="3" height="20" fill="#000"/>
<rect x="708" y="232" width="1" height="18" fill="#d46262"/>
<rect x="711" y="243" width="1" height="26" fill="#000"/>
<rect x="710" y="249" width="3" height="6" fill="#000"/>
<rect x="711" y="250" width="1" height="4" fill="#d46262"/>
<rect x="714" y="243" width="1" height="16" fill="#000"/>
<rect x="713" y="256" width="3" height="1" fill="#000"/>
<rect x="717" y="238" width="1" height="25" fill="#000"/>
<rect x="716" y="240" width="3" height="18" fill="#000"/>
<rect x="717" y="241" width="1" height="16" fill="#34c834"/>
<rect x="720" y="228" width="1" height="19" fill="#000"/>
<rect x="719" y="236" width="3" height="6" fill="#000"/>
<rect x="720" y="237" width="1" height="4" fill="#34c834"/>
<rect x="723" y="231" width="1" height="24" fill="#000"/>
<rect x="722" y="242" width="3" height="12" fill="#000"/>
<rect x="723" y="243" width="1" height="10" fill="#d46262"/>
<rect x="725" y="245" width="1" height="22" fill="#000"/>
<rect x="724" y="253" width="3" height="14" fill="#000"/>
<rect x="725" y="254" width="1" height="12" fill="#d46262"/>
<rect x="729" y="264" width="1" height="16" fill="#000"/>
<rect x="728" y="265" width="3" height="1" fill="#000"/>
<rect x="731" y="264" width="1" height="26" fill="#000"/>
<rect x="730" y="265" width="3" height="20" fill="#000"/>
<rect x="731" y="266" width="1" height="18" fill="#d46262"/>
<rect x="734" y="279" width="1" height="23" fill="#000"/>
<rect x="733" y="286" width="3" height="8" fill="#000"/>
<rect x="734" y="287" width="1" height="6" fill="#d46262"/>
<rect x="737" y="272" width="1" height="22" fill="#000"/>
<rect x="736" y="278" width="3" height="15" fill="#000"/>
<rect x="737" y="279" width="1" height="13" fill="#d46262"/>
<rect x="740" y="291" width="1" height="23" fill="#000"/>
<rect x="739" y="293" width="3" height="21" fill="#000"/>
<rect x="740" y="294" width="1" height="19" fill="#d46262"/>
<rect x="743" y="294" width="1" height="25" fill="#000"/>
<rect x="742" y="297" width="3" height="17" fill="#000"/>
<rect x="743" y="298" width="1" height="15" fill="#34c834"/>
<rect x="746" y="293" width="1" height="27" fill="#000"/>
<rect x="745" y="296" width="3" height="24" fill="#000"/>
<rect x="746" y="297" width="1" height="22" fill="#d46262"/>
<rect x="749" y="307" width="1" height="41" fill="#000"/>
<rect x="748" y="320" width="3" height="14" fill="#000"/>
<rect x="749" y="321" width="1" height="12" fill="#d46262"/>
<rect x="752" y="335" width="1" height="28" fill="#000"/>
<rect x="751" y="336" width="3" height="20" fill="#000"/>
<rect x="752" y="337" width="1" height="18" fill="#d46262"/>
<rect x="755" y="354" width="1" height="24" fill="#000"/>
<rect x="754" y="355" width="3" height="14" fill="#000"/>
<rect x="755" y="356" width="1" height="12" fill="#d46262"/>
<rect x="758" y="362" width="1" height="19" fill="#000"/>
<rect x="757" y="368" width="3" height="5" fill="#000"/>
<rect x="758" y="369" width="1" height="3" fill="#d46262"/>
<rect x="761" y="366" width="1" height="16" fill="#000"/>
<rect x="760" y="367" width="3" height="9" fill="#000"/>
<rect x="761" y="368" width="1" height="7" fill="#34c834"/>
<rect x="764" y="349" width="1" height="35" fill="#000"/>
<rect x="763" y="365" width="3" height="6" fill="#000"/>
<rect x="764" y="366" width="1" height="4" fill="#34c834"/>
<rect x="767" y="326" width="1" height="56" fill="#000"/>
<rect x="766" y="329" width="3" height="42" fill="#000"/>
<rect x="767" y="330" width="1" height="40" fill="#34c834"/>
<rect x="769" y="325" width="1" height="6" fill="#000"/>
<rect x="768" y="327" width="3" height="3" fill="#000"/>
<rect x="769" y="328" width="1" height="1" fill="#34c834"/>
<rect x="772" y="323" width="1" height="21" fill="#000"/>
<rect x="771" y="327" width="3" height="16" fill="#000"/>
<rect x="772" y="328" width="1" height="14" fill="#d46262"/>
<rect x="775" y="330" width="1" height="15" fill="#000"/>
<rect x="774" y="339" width="3" height="4" fill="#000"/>
<rect x="775" y="340" width="1" height="2" fill="#34c834"/>
<rect x="778" y="335" width="1" height="20" fill="#000"/>
<rect x="777" y="339" width="3" height="11" fill="#000"/>
<rect x="778" y="340" width="1" height="9" fill="#d46262"/>
<rect x="781" y="334" width="1" height="26" fill="#000"/>
<rect x="780" y="355" width="3" height="4" fill="#000"/>
<rect x="781" y="356" width="1" height="2" fill="#d46262"/>
<rect x="784" y="350" width="1" height="18" fill="#000"/>
<rect x="783" y="354" width="3" height="3" fill="#000"/>
<rect x="784" y="355" width="1" height="1" fill="#34c834"/>
<rect x="787" y="343" width="1" height="14" fill="#000"/>
<rect x="786" y="348" width="3" height="6" fill="#000"/>
<rect x="787" y="349" width="1" height="4" fill="#34c834"/>
<rect x="790" y="347" width="1" height="16" fill="#000"/>
<rect x="789" y="349" width="3" height="13" fill="#000"/>
<rect x="790" y="350" width="1" height="11" fill="#d46262"/>
<rect x="793" y="345" width="1" height="35" fill="#000"/>
<rect x="792" y="356" width="3" height="17" fill="#000"/>
<rect x="793" y="357" width="1" height="15" fill="#d46262"/>
<rect x="796" y="372" width="1" height="40" fill="#000"/>
<rect x="795" y="372" width="3" height="40" fill="#000"/>
<rect x="796" y="373" width="1" height="38" fill="#d46262"/>
<rect x="799" y="389" width="1" height="25" fill="#000"/>
<rect x="798" y="408" width="3" height="4" fill="#000"/>
<rect x="799" y="409" width="1" height="2" fill="#34c834"/>
<rect x="802" y="387" width="1" height="22" fill="#000"/>
<rect x="801" y="390" width="3" height="18" fill="#000"/>
<rect x="802" y="391" width="1" height="16" fill="#34c834"/>
<rect x="805" y="389" width="1" height="15" fill="#000"/>
<rect x="804" y="391" width="3" height="8" fill="#000"/>
<rect x="805" y="392" width="1" height="6" fill="#d46262"/>
<rect x="808" y="390" width="1" height="14" fill="#000"/>
<rect x="807" y="392" width="3" height="8" fill="#000"/>
<rect x="808" y="393" width="1" height="6" fill="#34c834"/>
<rect x="810" y="392" width="1" height="16" fill="#000"/>
<rect x="809" y="393" width="3" height="14" fill="#000"/>
<rect x="810" y="394" width="1" height="12" fill="#d46262"/>
<rect x="813" y="405" width="1" height="25" fill="#000"/>
<rect x="812" y="408" width="3" height="11" fill="#000"/>
<rect x="813" y="409" width="1" height="9" fill="#d46262"/>
<rect x="816" y="407" width="1" height="26" fill="#000"/>
<rect x="815" y="409" width="3" height="12" fill="#000"/>
<rect x="816" y="410" width="1" height="10" fill="#34c834"/>
<rect x="819" y="408" width="1" height="27" fill="#000"/>
<rect x="818" y="409" width="3" height="23" fill="#000"/>
<rect x="819" y="410" width="1" height="21" fill="#d46262"/>
<rect x="822" y="429" width="1" height="22" fill="#000"/>
<rect x="821" y="431" width="3" height="18" fill="#000"/>
<rect x="822" y="432" width="1" height="16" fill="#d46262"/>
<rect x="825" y="423" width="1" height="35" fill="#000"/>
<rect x="824" y="436" width="3" height="19" fill="#000"/>
<rect x="825" y="437" width="1" height="17" fill="#d46262"/>
<rect x="828" y="434" width="1" height="36" fill="#000"/>
<rect x="827" y="435" width="3" height="17" fill="#000"/>
<rect x="828" y="436" width="1" height="15" fill="#34c834"/>
<rect x="831" y="438" width="1" height="18" fill="#000"/>
<rect x="830" y="439" width="3" height="13" fill="#000"/>
<rect x="831" y="440" width="1" height="11" fill="#34c834"/>
<rect x="834" y="408" width="1" height="38" fill="#000"/>
<rect x="833" y="410" width="3" height="30" fill="#000"/>
<rect x="834" y="411" width="1" height="28" fill="#34c834"/>
<rect x="837" y="401" width="1" height="21" fill="#000"/>
<rect x="836" y="412" width="3" height="4" fill="#000"/>
<rect x="837" y="413" width="1" height="2" fill="#d46262"/>
<rect x="840" y="419" width="1" height="23" fill="#000"/>
<rect x="839" y="421" width="3" height="12" fill="#000"/>
<rect x="840" y="422" width="1" height="10" fill="#d46262"/>
<rect x="843" y="421" width="1" height="16" fill="#000"/>
<rect x="842" y="431" width="3" height="1" fill="#000"/>
<rect x="846" y="422" width="1" height="11" fill="#000"/>
<rect x="845" y="428" width="3" height="3" fill="#000"/>
<rect x="846" y="429" width="1" height="1" fill="#34c834"/>
<rect x="849" y="419" width="1" height="13" fill="#000"/>
<rect x="848" y="426" width="3" height="1" fill="#000"/>
<rect x="852" y="418" width="1" height="16" fill="#000"/>
<rect x="851" y="424" width="3" height="3" fill="#000"/>
<rect x="852" y="425" width="1" height="1" fill="#34c834"/>
<rect x="855" y="404" width="1" height="31" fill="#000"/>
<rect x="854" y="421" width="3" height="13" fill="#000"/>
<rect x="855" y="422" width="1" height="11" fill="#34c834"/>
<rect x="857" y="406" width="1" height="8" fill="#000"/>
<rect x="856" y="407" width="3" height="5" fill="#000"/>
<rect x="857" y="408" width="1" height="3" fill="#34c834"/>
<rect x="31" y="538" width="1" height="32" fill="#66cc44"/>
<rect x="34" y="544" width="1" height="26" fill="#66cc44"/>
<rect x="37" y="545" width="1" height="25" fill="#66cc44"/>
<rect x="40" y="557" width="1" height="13" fill="#d46262"/>
<rect x="43" y="558" width="1" height="12" fill="#66cc44"/>
<rect x="46" y="530" width="1" height="40" fill="#d46262"/>
<rect x="49" y="558" width="1" height="12" fill="#66cc44"/>
<rect x="52" y="561" width="1" height="9" fill="#66cc44"/>
<rect x="54" y="556" width="1" height="14" fill="#66cc44"/>
<rect x="57" y="551" width="1" height="19" fill="#66cc44"/>
<rect x="60" y="539" width="1" height="31" fill="#d46262"/>
<rect x="63" y="565" width="1" height="5" fill="#66cc44"/>
<rect x="66" y="558" width="1" height="12" fill="#66cc44"/>
<rect x="69" y="560" width="1" height="10" fill="#d46262"/>
<rect x="72" y="560" width="1" height="10" fill="#66cc44"/>
<rect x="75" y="551" width="1" height="19" fill="#d46262"/>
<rect x="78" y="560" width="1" height="10" fill="#66cc44"/>
<rect x="81" y="561" width="1" height="9" fill="#d46262"/>
<rect x="84" y="559" width="1" height="11" fill="#66cc44"/>
<rect x="87" y="557" width="1" height="13" fill="#d46262"/>
<rect x="90" y="541" width="1" height="29" fill="#66cc44"/>
<rect x="93" y="560" width="1" height="10" fill="#66cc44"/>
<rect x="95" y="562" width="1" height="8" fill="#d46262"/>
<rect x="98" y="563" width="1" height="7" fill="#d46262"/>
<rect x="101" y="559" width="1" height="11" fill="#66cc44"/>
<rect x="104" y="531" width="1" height="39" fill="#66cc44"/>
<rect x="107" y="562" width="1" height="8" fill="#d46262"/>
<rect x="110" y="556" width="1" height="14" fill="#66cc44"/>
<rect x="113" y="562" width="1" height="8" fill="#d46262"/>
<rect x="116" y="559" width="1" height="11" fill="#66cc44"/>
<rect x="119" y="527" width="1" height="43" fill="#d46262"/>
<rect x="122" y="548" width="1" height="22" fill="#66cc44"/>
<rect x="125" y="559" width="1" height="11" fill="#66cc44"/>
<rect x="128" y="563" width="1" height="7" fill="#d46262"/>
<rect x="131" y="552" width="1" height="18" fill="#d46262"/>
<rect x="133" y="537" width="1" height="33" fill="#66cc44"/>
<rect x="136" y="562" width="1" height="8" fill="#66cc44"/>
<rect x="139" y="556" width="1" height="14" fill="#66cc44"/>
<rect x="142" y="560" width="1" height="10" fill="#d46262"/>
<rect x="145" y="553" width="1" height="17" fill="#d46262"/>
<rect x="148" y="537" width="1" height="33" fill="#66cc44"/>
<rect x="151" y="559" width="1" height="11" fill="#d46262"/>
<rect x="154" y="557" width="1" height="13" fill="#d46262"/>
<rect x="157" y="557" width="1" height="13" fill="#d46262"/>
<rect x="160" y="549" width="1" height="21" fill="#d46262"/>
<rect x="163" y="558" width="1" height="12" fill="#66cc44"/>
<rect x="166" y="563" width="1" height="7" fill="#66cc44"/>
<rect x="169" y="563" width="1" height="7" fill="#d46262"/>
<rect x="172" y="567" width="1" height="3" fill="#d46262"/>
<rect x="175" y="564" width="1" height="6" fill="#66cc44"/>
<rect x="178" y="555" width="1" height="15" fill="#66cc44"/>
<rect x="180" y="566" width="1" height="4" fill="#66cc44"/>
<rect x="183" y="565" width="1" height="5" fill="#66cc44"/>
<rect x="186" y="565" width="1" height="5" fill="#66cc44"/>
<rect x="189" y="564" width="1" height="6" fill="#d46262"/>
<rect x="192" y="551" width="1" height="19" fill="#d46262"/>
<rect x="195" y="565" width="1" height="5" fill="#66cc44"/>
<rect x="198" y="561" width="1" height="9" fill="#d46262"/>
<rect x="200" y="566" width="1" height="4" fill="#66cc44"/>
<rect x="204" y="554" width="1" height="16" fill="#d46262"/>
<rect x="207" y="560" width="1" height="10" fill="#d46262"/>
<rect x="210" y="554" width="1" height="16" fill="#d46262"/>
<rect x="213" y="561" width="1" height="9" fill="#66cc44"/>
<rect x="215" y="567" width="1" height="3" fill="#66cc44"/>
<rect x="218" y="563" width="1" height="7" fill="#d46262"/>
<rect x="221" y="549" width="1" height="21" fill="#d46262"/>
<rect x="224" y="560" width="1" height="10" fill="#d46262"/>
<rect x="227" y="561" width="1" height="9" fill="#66cc44"/>
<rect x="230" y="564" width="1" height="6" fill="#d46262"/>
<rect x="233" y="551" width="1" height="19" fill="#66cc44"/>
<rect x="236" y="546" width="1" height="24" fill="#d46262"/>
<rect x="239" y="562" width="1" height="8" fill="#d46262"/>
<rect x="242" y="563" width="1" height="7" fill="#d46262"/>
<rect x="244" y="564" width="1" height="6" fill="#66cc44"/>
<rect x="248" y="559" width="1" height="11" fill="#66cc44"/>
<rect x="251" y="536" width="1" height="34" fill="#d46262"/>
<rect x="254" y="553" width="1" height="17" fill="#66cc44"/>
<rect x="257" y="552" width="1" height="18" fill="#66cc44"/>
<rect x="260" y="564" width="1" height="6" fill="#d46262"/>
<rect x="262" y="563" width="1" height="7" fill="#d46262"/>
<rect x="265" y="544" width="1" height="26" fill="#66cc44"/>
<rect x="267" y="553" width="1" height="17" fill="#66cc44"/>
<rect x="271" y="565" width="1" height="5" fill="#d46262"/>
<rect x="274" y="565" width="1" height="5" fill="#d46262"/>
<rect x="276" y="561" width="1" height="9" fill="#66cc44"/>
<rect x="280" y="545" width="1" height="25" fill="#66cc44"/>
<rect x="282" y="566" width="1" height="4" fill="#66cc44"/>
<rect x="286" y="556" width="1" height="14" fill="#d46262"/>
<rect x="289" y="552" width="1" height="18" fill="#d46262"/>
<rect x="291" y="558" width="1" height="12" fill="#d46262"/>
<rect x="295" y="547" width="1" height="23" fill="#d46262"/>
<rect x="297" y="562" width="1" height="8" fill="#66cc44"/>
<rect x="300" y="555" width="1" height="15" fill="#d46262"/>
<rect x="303" y="564" width="1" height="6" fill="#66cc44"/>
<rect x="306" y="547" width="1" height="23" fill="#66cc44"/>
<rect x="309" y="546" width="1" height="24" fill="#d46262"/>
<rect x="312" y="554" width="1" height="16" fill="#66cc44"/>
<rect x="315" y="563" width="1" height="7" fill="#66cc44"/>
<rect x="318" y="563" width="1" height="7" fill="#d46262"/>
<rect x="321" y="554" width="1" height="16" fill="#66cc44"/>
<rect x="324" y="543" width="1" height="27" fill="#d46262"/>
<rect x="327" y="562" width="1" height="8" fill="#d46262"/>
<rect x="330" y="561" width="1" height="9" fill="#d46262"/>
<rect x="332" y="552" width="1" height="18" fill="#d46262"/>
<rect x="336" y="554" width="1" height="16" fill="#d46262"/>
<rect x="339" y="552" width="1" height="18" fill="#66cc44"/>
<rect x="342" y="555" width="1" height="15" fill="#d46262"/>
<rect x="345" y="560" width="1" height="10" fill="#d46262"/>
<rect x="347" y="560" width="1" height="10" fill="#d46262"/>
<rect x="350" y="543" width="1" height="27" fill="#d46262"/>
<rect x="353" y="524" width="1" height="46" fill="#d46262"/>
<rect x="356" y="561" width="1" height="9" fill="#66cc44"/>
<rect x="359" y="559" width="1" height="11" fill="#d46262"/>
<rect x="362" y="560" width="1" height="10" fill="#66cc44"/>
<rect x="365" y="552" width="1" height="18" fill="#d46262"/>
<rect x="368" y="539" width="1" height="31" fill="#d46262"/>
<rect x="371" y="561" width="1" height="9" fill="#66cc44"/>
<rect x="374" y="559" width="1" height="11" fill="#d46262"/>
<rect x="377" y="561" width="1" height="9" fill="#d46262"/>
<rect x="380" y="564" width="1" height="6" fill="#d46262"/>
<rect x="383" y="544" width="1" height="26" fill="#d46262"/>
<rect x="386" y="563" width="1" height="7" fill="#66cc44"/>
<rect x="388" y="560" width="1" height="10" fill="#d46262"/>
<rect x="391" y="565" width="1" height="5" fill="#66cc44"/>
<rect x="394" y="564" width="1" height="6" fill="#66cc44"/>
<rect x="397" y="531" width="1" height="39" fill="#d46262"/>
<rect x="400" y="540" width="1" height="30" fill="#66cc44"/>
<rect x="403" y="547" width="1" height="23" fill="#d46262"/>
<rect x="406" y="548" width="1" height="22" fill="#d46262"/>
<rect x="409" y="542" width="1" height="28" fill="#d46262"/>
<rect x="412" y="518" width="1" height="52" fill="#66cc44"/>
<rect x="414" y="542" width="1" height="28" fill="#d46262"/>
<rect x="418" y="532" width="1" height="38" fill="#d46262"/>
<rect x="421" y="552" width="1" height="18" fill="#66cc44"/>
<rect x="423" y="550" width="1" height="20" fill="#66cc44"/>
<rect x="427" y="514" width="1" height="56" fill="#66cc44"/>
<rect x="430" y="552" width="1" height="18" fill="#66cc44"/>
<rect x="432" y="543" width="1" height="27" fill="#d46262"/>
<rect x="435" y="561" width="1" height="9" fill="#d46262"/>
<rect x="438" y="557" width="1" height="13" fill="#d46262"/>
<rect x="441" y="518" width="1" height="52" fill="#d46262"/>
<rect x="444" y="548" width="1" height="22" fill="#66cc44"/>
<rect x="447" y="553" width="1" height="17" fill="#66cc44"/>
<rect x="450" y="557" width="1" height="13" fill="#66cc44"/>
<rect x="453" y="562" width="1" height="8" fill="#66cc44"/>
<rect x="456" y="521" width="1" height="49" fill="#d46262"/>
<rect x="459" y="561" width="1" height="9" fill="#66cc44"/>
<rect x="462" y="560" width="1" height="10" fill="#d46262"/>
<rect x="465" y="563" width="1" height="7" fill="#66cc44"/>
<rect x="468" y="562" width="1" height="8" fill="#66cc44"/>
<rect x="471" y="546" width="1" height="24" fill="#66cc44"/>
<rect x="473" y="561" width="1" height="9" fill="#d46262"/>
<rect x="476" y="557" width="1" height="13" fill="#66cc44"/>
<rect x="479" y="564" width="1" height="6" fill="#d46262"/>
<rect x="482" y="552" width="1" height="18" fill="#66cc44"/>
<rect x="485" y="533" width="1" height="37" fill="#66cc44"/>
<rect x="488" y="565" width="1" height="5" fill="#66cc44"/>
<rect x="491" y="557" width="1" height="13" fill="#d46262"/>
<rect x="494" y="560" width="1" height="10" fill="#d46262"/>
<rect x="497" y="560" width="1" height="10" fill="#d46262"/>
<rect x="500" y="556" width="1" height="14" fill="#d46262"/>
<rect x="503" y="565" width="1" height="5" fill="#66cc44"/>
<rect x="505" y="566" width="1" height="4" fill="#66cc44"/>
<rect x="509" y="566" width="1" height="4" fill="#66cc44"/>
<rect x="512" y="565" width="1" height="5" fill="#66cc44"/>
<rect x="515" y="561" width="1" height="9" fill="#66cc44"/>
<rect x="517" y="564" width="1" height="6" fill="#66cc44"/>
<rect x="520" y="559" width="1" height="11" fill="#66cc44"/>
<rect x="523" y="558" width="1" height="12" fill="#66cc44"/>
<rect x="526" y="562" width="1" height="8" fill="#66cc44"/>
<rect x="529" y="555" width="1" height="15" fill="#d46262"/>
<rect x="532" y="563" width="1" height="7" fill="#66cc44"/>
<rect x="535" y="561" width="1" height="9" fill="#d46262"/>
<rect x="538" y="557" width="1" height="13" fill="#66cc44"/>
<rect x="541" y="564" width="1" height="6" fill="#d46262"/>
<rect x="544" y="550" width="1" height="20" fill="#66cc44"/>
<rect x="547" y="559" width="1" height="11" fill="#66cc44"/>
<rect x="550" y="562" width="1" height="8" fill="#66cc44"/>
<rect x="553" y="552" width="1" height="18" fill="#66cc44"/>
<rect x="556" y="549" width="1" height="21" fill="#66cc44"/>
<rect x="558" y="530" width="1" height="40" fill="#66cc44"/>
<rect x="561" y="551" width="1" height="19" fill="#66cc44"/>
<rect x="564" y="553" width="1" height="17" fill="#66cc44"/>
<rect x="567" y="558" width="1" height="12" fill="#d46262"/>
<rect x="570" y="559" width="1" height="11" fill="#d46262"/>
<rect x="572" y="544" width="1" height="26" fill="#66cc44"/>
<rect x="576" y="562" width="1" height="8" fill="#66cc44"/>
<rect x="579" y="558" width="1" height="12" fill="#66cc44"/>
<rect x="581" y="559" width="1" height="11" fill="#d46262"/>
<rect x="585" y="560" width="1" height="10" fill="#66cc44"/>
<rect x="588" y="529" width="1" height="41" fill="#66cc44"/>
<rect x="591" y="557" width="1" height="13" fill="#d46262"/>
<rect x="594" y="553" width="1" height="17" fill="#66cc44"/>
<rect x="597" y="561" width="1" height="9" fill="#66cc44"/>
<rect x="599" y="561" width="1" height="9" fill="#66cc44"/>
<rect x="602" y="528" width="1" height="42" fill="#66cc44"/>
<rect x="605" y="558" width="1" height="12" fill="#66cc44"/>
<rect x="608" y="557" width="1" height="13" fill="#d46262"/>
<rect x="611" y="562" width="1" height="8" fill="#66cc44"/>
<rect x="614" y="558" width="1" height="12" fill="#d46262"/>
<rect x="617" y="540" width="1" height="30" fill="#66cc44"/>
<rect x="620" y="555" width="1" height="15" fill="#66cc44"/>
<rect x="623" y="558" width="1" height="12" fill="#66cc44"/>
<rect x="626" y="561" width="1" height="9" fill="#d46262"/>
<rect x="629" y="561" width="1" height="9" fill="#d46262"/>
<rect x="632" y="535" width="1" height="35" fill="#d46262"/>
<rect x="635" y="562" width="1" height="8" fill="#d46262"/>
<rect x="638" y="558" width="1" height="12" fill="#66cc44"/>
<rect x="641" y="563" width="1" height="7" fill="#d46262"/>
<rect x="643" y="559" width="1" height="11" fill="#66cc44"/>
<rect x="646" y="538" width="1" height="32" fill="#d46262"/>
<rect x="649" y="540" width="1" height="30" fill="#d46262"/>
<rect x="652" y="543" width="1" height="27" fill="#d46262"/>
<rect x="655" y="555" width="1" height="15" fill="#66cc44"/>
<rect x="658" y="557" width="1" height="13" fill="#66cc44"/>
<rect x="661" y="543" width="1" height="27" fill="#d46262"/>
<rect x="664" y="560" width="1" height="10" fill="#66cc44"/>
<rect x="667" y="552" width="1" height="18" fill="#d46262"/>
<rect x="670" y="558" width="1" height="12" fill="#66cc44"/>
<rect x="673" y="551" width="1" height="19" fill="#66cc44"/>
<rect x="676" y="537" width="1" height="33" fill="#66cc44"/>
<rect x="679" y="549" width="1" height="21" fill="#d46262"/>
<rect x="682" y="547" width="1" height="23" fill="#d46262"/>
<rect x="684" y="552" width="1" height="18" fill="#d46262"/>
<rect x="687" y="561" width="1" height="9" fill="#66cc44"/>
<rect x="690" y="525" width="1" height="45" fill="#d46262"/>
<rect x="693" y="563" width="1" height="7" fill="#d46262"/>
<rect x="696" y="558" width="1" height="12" fill="#66cc44"/>
<rect x="699" y="562" width="1" height="8" fill="#66cc44"/>
<rect x="702" y="557" width="1" height="13" fill="#d46262"/>
<rect x="705" y="551" width="1" height="19" fill="#d46262"/>
<rect x="708" y="557" width="1" height="13" fill="#d46262"/>
<rect x="711" y="554" width="1" height="16" fill="#d46262"/>
<rect x="714" y="563" width="1" height="7" fill="#d46262"/>
<rect x="717" y="559" width="1" height="11" fill="#66cc44"/>
<rect x="720" y="555" width="1" height="15" fill="#66cc44"/>
<rect x="722" y="555" width="1" height="15" fill="#66cc44"/>
<rect x="725" y="535" width="1" height="35" fill="#d46262"/>
<rect x="728" y="552" width="1" height="18" fill="#66cc44"/>
<rect x="731" y="540" width="1" height="30" fill="#d46262"/>
<rect x="734" y="538" width="1" height="32" fill="#d46262"/>
<rect x="737" y="553" width="1" height="17" fill="#66cc44"/>
<rect x="740" y="548" width="1" height="22" fill="#d46262"/>
<rect x="743" y="546" width="1" height="24" fill="#66cc44"/>
<rect x="746" y="546" width="1" height="24" fill="#66cc44"/>
<rect x="749" y="537" width="1" height="33" fill="#d46262"/>
<rect x="752" y="542" width="1" height="28" fill="#d46262"/>
<rect x="755" y="548" width="1" height="22" fill="#d46262"/>
<rect x="758" y="554" width="1" height="16" fill="#66cc44"/>
<rect x="761" y="557" width="1" height="13" fill="#66cc44"/>
<rect x="764" y="542" width="1" height="28" fill="#66cc44"/>
<rect x="766" y="544" width="1" height="26" fill="#66cc44"/>
<rect x="769" y="553" width="1" height="17" fill="#d46262"/>
<rect x="772" y="559" width="1" height="11" fill="#d46262"/>
<rect x="775" y="557" width="1" height="13" fill="#66cc44"/>
<rect x="778" y="549" width="1" height="21" fill="#d46262"/>
<rect x="781" y="562" width="1" height="8" fill="#d46262"/>
<rect x="784" y="551" width="1" height="19" fill="#66cc44"/>
<rect x="787" y="563" width="1" height="7" fill="#d46262"/>
<rect x="790" y="557" width="1" height="13" fill="#d46262"/>
<rect x="793" y="541" width="1" height="29" fill="#d46262"/>
<rect x="796" y="552" width="1" height="18" fill="#66cc44"/>
<rect x="799" y="551" width="1" height="19" fill="#66cc44"/>
<rect x="802" y="554" width="1" height="16" fill="#d46262"/>
<rect x="805" y="554" width="1" height="16" fill="#66cc44"/>
<rect x="808" y="549" width="1" height="21" fill="#d46262"/>
<rect x="810" y="542" width="1" height="28" fill="#d46262"/>
<rect x="813" y="552" width="1" height="18" fill="#66cc44"/>
<rect x="816" y="553" width="1" height="17" fill="#66cc44"/>
<rect x="819" y="556" width="1" height="14" fill="#d46262"/>
<rect x="822" y="525" width="1" height="45" fill="#d46262"/>
<rect x="825" y="552" width="1" height="18" fill="#66cc44"/>
<rect x="828" y="554" width="1" height="16" fill="#d46262"/>
<rect x="831" y="557" width="1" height="13" fill="#66cc44"/>
<rect x="834" y="554" width="1" height="16" fill="#66cc44"/>
<rect x="837" y="552" width="1" height="18" fill="#d46262"/>
<rect x="840" y="558" width="1" height="12" fill="#d46262"/>
<rect x="843" y="563" width="1" height="7" fill="#66cc44"/>
<rect x="846" y="563" width="1" height="7" fill="#66cc44"/>
<rect x="849" y="557" width="1" height="13" fill="#66cc44"/>
<rect x="851" y="557" width="1" height="13" fill="#66cc44"/>
<rect x="854" y="561" width="1" height="9" fill="#66cc44"/>
<rect x="857" y="567" width="1" height="3" fill="#66cc44"/>
<rect x="23" y="570" width="859" height="1" fill="#dbe8d4"/>
<rect x="876" y="45" width="6" height="1" fill="#000"/>
<rect x="876" y="93" width="6" height="1" fill="#000"/>
<rect x="876" y="142" width="6" height="1" fill="#000"/>
<rect x="876" y="193" width="6" height="1" fill="#000"/>
<rect x="876" y="246" width="6" height="1" fill="#000"/>
<rect x="876" y="302" width="6" height="1" fill="#000"/>
<rect x="876" y="360" width="6" height="1" fill="#000"/>
<rect x="876" y="420" width="6" height="1" fill="#000"/>
<rect x="878" y="69" width="4" height="1" fill="#000"/>
<rect x="878" y="117" width="4" height="1" fill="#000"/>
<rect x="878" y="167" width="4" height="1" fill="#000"/>
<rect x="878" y="219" width="4" height="1" fill="#000"/>
<rect x="878" y="274" width="4" height="1" fill="#000"/>
<rect x="878" y="330" width="4" height="1" fill="#000"/>
<rect x="878" y="390" width="4" height="1" fill="#000"/>
<rect x="878" y="452" width="4" height="1" fill="#000"/>
<rect x="787.5" y="372.5" width="94.5" height="7" fill="#ffff66" stroke="#222200" stroke-width="1"/>
<line x1="626" y1="151.5" x2="881.2" y2="349.7" stroke="#ff8038" stroke-width="4.6"/>
<line x1="23" y1="54.6" x2="881" y2="192.4" stroke="#ff0000" stroke-width="5.0" shape-rendering="crispEdges"/>
<line x1="747" y1="290" x2="881.3" y2="448" stroke="#7f3f00" stroke-width="5.5"/>
</svg>
<div class="k" style="left:22px;top:39px;width:860px;height:1px"></div>
<div class="k" style="left:23px;top:490px;width:860px;height:1px"></div>
<div class="k" style="left:882px;top:22px;width:1px;height:468px"></div>
<div class="k" style="left:23px;top:571px;width:860px;height:1px"></div>
<div class="k" style="left:882px;top:512px;width:1px;height:59px"></div>
<div id="tx">
<div id="ht"><span style="left:-0.5px;letter-spacing:.42px">Valor</span><span style="left:49px;letter-spacing:.6px">GAMESA</span><span style="left:107px;letter-spacing:.3px">día</span><span style="left:123px;letter-spacing:.85px">+Bajo:</span><span style="left:159px;letter-spacing:.2px">10,4000</span><span style="left:200.5px;letter-spacing:.25px">+Alto:</span><span style="left:232px;letter-spacing:.2px">10,6350</span></div>
<div id="mk"></div>
<div id="cp">© IT-Finance.com / Bolsamania Tech Solutions<i>Selección del período: 2 horas</i></div>
<div id="wm">www.labolsaporantonomasia.es</div><div id="wmu"></div>
<div id="vl"><span style="position:absolute;left:4px;top:0">Volumen</span></div>
<div class="yl" style="top:41px">14</div>
<div class="yl" style="top:89px">13,5</div>
<div class="yl" style="top:138px">13</div>
<div class="yl" style="top:189px">12,5</div>
<div class="yl" style="top:242px">12</div>
<div class="yl" style="top:298px">11,5</div>
<div class="yl" style="top:356px">11</div>
<div class="yl" style="top:416px">10,5</div>
<div class="k" style="left:878px;top:519px;width:4px;height:1px"></div>
<div class="k" style="left:876px;top:535px;width:6px;height:1px"></div>
<div class="k" style="left:878px;top:552px;width:4px;height:1px"></div>
<div class="yl" style="top:531px">1000K</div>
<div class="k" style="left:49px;top:491px;width:1px;height:2px"></div>
<div class="xl" style="left:28px">11</div>
<div class="k" style="left:93px;top:491px;width:1px;height:2px"></div>
<div class="xl" style="left:72px">16</div>
<div class="k" style="left:136px;top:491px;width:1px;height:2px"></div>
<div class="xl" style="left:115px">19</div>
<div class="k" style="left:180px;top:491px;width:1px;height:2px"></div>
<div class="xl" style="left:159px">24</div>
<div class="k" style="left:254px;top:491px;width:1px;height:2px"></div>
<div class="xl b" style="left:233px">Dic</div>
<div class="k" style="left:298px;top:491px;width:1px;height:2px"></div>
<div class="xl" style="left:277px">4</div>
<div class="k" style="left:342px;top:491px;width:1px;height:2px"></div>
<div class="xl" style="left:321px">9</div>
<div class="k" style="left:386px;top:491px;width:1px;height:2px"></div>
<div class="xl" style="left:365px">14</div>
<div class="k" style="left:429px;top:491px;width:1px;height:2px"></div>
<div class="xl" style="left:408px">17</div>
<div class="k" style="left:473px;top:491px;width:1px;height:2px"></div>
<div class="xl" style="left:452px">22</div>
<div class="k" style="left:547px;top:491px;width:1px;height:2px"></div>
<div class="xl b" style="left:526px">2010</div>
<div class="k" style="left:591px;top:491px;width:1px;height:2px"></div>
<div class="xl" style="left:570px">7</div>
<div class="k" style="left:635px;top:491px;width:1px;height:2px"></div>
<div class="xl" style="left:614px">12</div>
<div class="k" style="left:679px;top:491px;width:1px;height:2px"></div>
<div class="xl" style="left:658px">15</div>
<div class="k" style="left:722px;top:491px;width:1px;height:2px"></div>
<div class="xl" style="left:701px">20</div>
<div class="k" style="left:766px;top:491px;width:1px;height:2px"></div>
<div class="xl" style="left:745px">25</div>
<div class="k" style="left:840px;top:491px;width:1px;height:2px"></div>
<div class="xl b" style="left:819px">Feb</div>
<div class="tag" style="left:882px;top:398px;width:39px;height:18px;line-height:16px;padding-left:2px;letter-spacing:0.4px;">10,6150</div>
<div class="tag" style="left:882px;top:552px;width:35px;height:18px;line-height:18px;padding-left:2px;letter-spacing:0.4px;">53762</div>
</div>
</body></html>
